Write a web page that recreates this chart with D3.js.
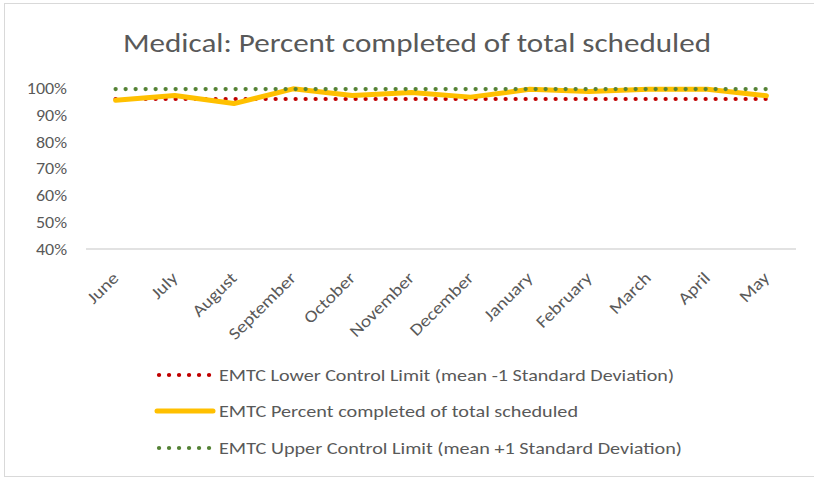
<!DOCTYPE html>
<html lang="en">
<head>
    <meta charset="UTF-8">
    <title>Medical: Percent completed of total scheduled</title>
    <script src="https://d3js.org/d3.v7.min.js"></script>
    <style>
        body { margin: 0; background: #fff; }
        text { font-family: Carlito, "Liberation Sans Narrow", "Liberation Sans", sans-serif; fill: #595959; }
    </style>
</head>
<body>
    <script>
        // Data
        const months = ['June', 'July', 'August', 'September', 'October', 'November',
            'December', 'January', 'February', 'March', 'April', 'May'];
        const percentCompleted = [95.4, 97.2, 94.2, 99.7, 97.2, 98.3, 96.6, 99.5, 98.7, 99.5, 99.5, 97.1];
        const lowerLimit = [95.9, 95.9, 95.9, 95.9, 95.9, 95.9, 95.9, 95.9, 95.9, 95.9, 95.9, 95.9];
        const upperLimit = [99.6, 99.6, 99.6, 99.6, 99.6, 99.6, 99.6, 99.6, 99.6, 99.6, 99.6, 99.6];
        const yTicks = [40, 50, 60, 70, 80, 90, 100];

        const series = [
            { name: 'EMTC Lower Control Limit (mean -1 Standard Deviation)', values: lowerLimit, color: '#C00000', dotted: true, len: 455 },
            { name: 'EMTC Percent completed of total scheduled', values: percentCompleted, color: '#FFC000', dotted: false, len: 359 },
            { name: 'EMTC Upper Control Limit (mean +1 Standard Deviation)', values: upperLimit, color: '#548235', dotted: true, len: 463 }
        ];

        const width = 814;
        const height = 478;
        const svg = d3.select('body')
            .append('svg')
            .attr('width', width)
            .attr('height', height);

        // chart border
        svg.append('rect')
            .attr('x', 4.5).attr('y', 3.5)
            .attr('width', 812).attr('height', 473)
            .attr('fill', 'white')
            .attr('stroke', '#d9d9d9');

        // title
        svg.append('text')
            .attr('x', 417).attr('y', 52)
            .attr('text-anchor', 'middle')
            .attr('font-size', 27)
            .attr('textLength', 588)
            .attr('lengthAdjust', 'spacingAndGlyphs')
            .text('Medical: Percent completed of total scheduled');

        const plot = { left: 86, right: 796, top: 88, bottom: 249 };

        const x = d3.scaleBand()
            .domain(months)
            .range([plot.left, plot.right]);

        const y = d3.scaleLinear()
            .domain([40, 100])
            .range([plot.bottom, plot.top]);

        // baseline
        svg.append('line')
            .attr('x1', plot.left).attr('x2', plot.right)
            .attr('y1', y(40)).attr('y2', y(40))
            .attr('stroke', '#d9d9d9')
            .attr('stroke-width', 1.3);

        // y axis labels (the source font is drawn a little wide)
        const yAxis = d3.axisLeft(y)
            .tickValues(yTicks)
            .tickSize(0)
            .tickPadding(0)
            .tickFormat(d => d + '%');
        const yg = svg.append('g')
            .attr('transform', 'translate(67,0)')
            .call(yAxis);
        yg.select('.domain').remove();
        yg.selectAll('text')
            .attr('font-size', 17)
            .attr('fill', '#595959')
            .attr('font-family', null)
            .attr('transform', 'scale(1.06,1)');

        // x axis labels, rotated
        const xAxis = d3.axisBottom(x).tickSize(0).tickPadding(0);
        const xg = svg.append('g')
            .attr('transform', `translate(0,${plot.bottom})`)
            .call(xAxis);
        xg.select('.domain').remove();
        xg.selectAll('text')
            .attr('font-size', 17)
            .attr('fill', '#595959')
            .attr('font-family', null)
            .attr('text-anchor', 'end')
            .attr('dy', null)
            .attr('y', 0)
            .attr('transform', 'translate(4,30) rotate(-45) scale(1.15,1)');

        const line = d3.line()
            .x((d, i) => x(months[i]) + x.bandwidth() / 2)
            .y(d => y(d));

        series.forEach(s => {
            svg.append('path')
                .datum(s.values)
                .attr('d', line)
                .attr('fill', 'none')
                .attr('stroke', s.color)
                .attr('stroke-width', s.dotted ? 4.2 : 5)
                .attr('stroke-linecap', 'round')
                .attr('stroke-linejoin', 'round')
                .attr('stroke-dasharray', s.dotted ? '0.1 9.9' : null);
        });

        // legend
        const legendRows = [375, 411, 448];
        series.forEach((s, i) => {
            const ly = legendRows[i];
            svg.append('line')
                .attr('x1', s.dotted ? 159 : 157).attr('x2', s.dotted ? 211 : 213)
                .attr('y1', ly).attr('y2', ly)
                .attr('stroke', s.color)
                .attr('stroke-width', s.dotted ? 4.2 : 5)
                .attr('stroke-linecap', 'round')
                .attr('stroke-dasharray', s.dotted ? '0.1 9.9' : null);
            svg.append('text')
                .attr('x', 219).attr('y', ly + 6)
                .attr('font-size', 17)
                .attr('textLength', s.len)
                .attr('lengthAdjust', 'spacingAndGlyphs')
                .text(s.name);
        });
    </script>
</body>
</html>
